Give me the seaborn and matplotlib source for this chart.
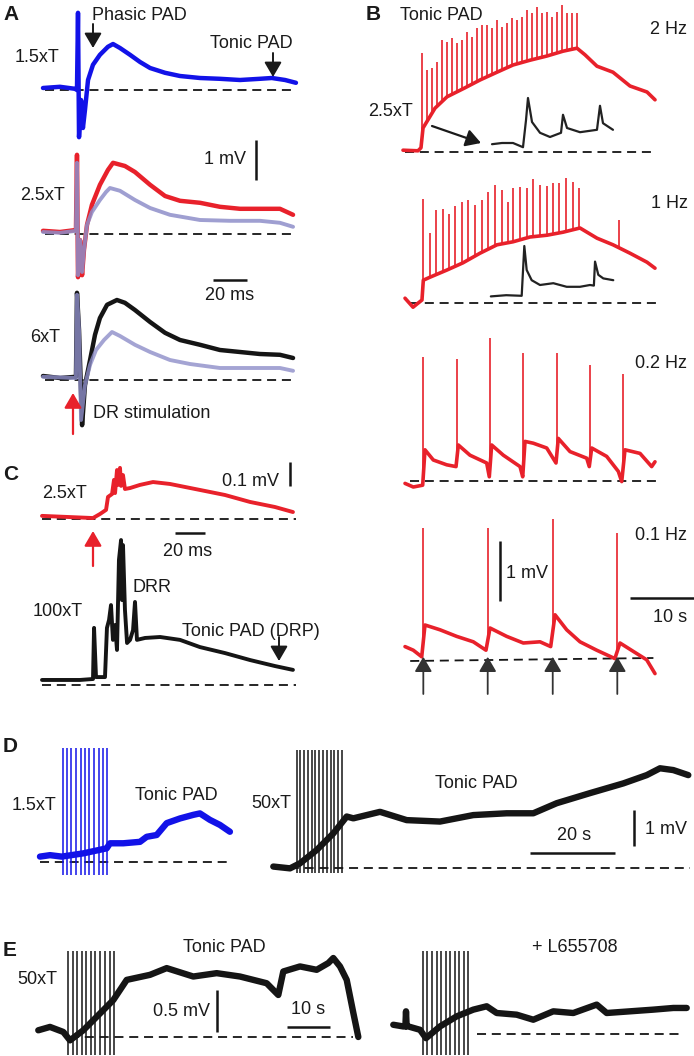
"""Tonic and phasic PAD recordings, redrawn as a multi-panel trace figure."""

import numpy as np
import matplotlib
matplotlib.use("Agg")
import matplotlib.pyplot as plt
import seaborn as sns

W, H = 694, 1056
RED = "#e8212b"
BLUE = "#1212e8"
LILAC = "#8e8ec9"
INK = "#151515"

# ---- Panel A: ms after DR stimulus, mV ----
a1_t = [-20.6, -10.6, -1.8, -0.6, 0, 0.6, 1.8, 2.9, 4.1, 5.9, 8.8, 12.9, 17.6, 20.6, 24.7,
        30.6, 36.5, 42.4, 51.2, 60, 71.8, 83.5, 95.3, 107, 114, 121.8, 128.2]
a1_v = [0.05, 0.08, 0.03, 0, 1.93, -1.18, -0.25, -0.95, -0.5, 0.25, 0.63, 0.88, 1.08, 1.15, 1.05,
        0.88, 0.7, 0.55, 0.43, 0.35, 0.3, 0.28, 0.25, 0.28, 0.3, 0.25, 0.18]

a2_t = [-20.6, -10.6, -1.2, -0.6, 0, 1.2, 2.4, 3.5, 5.3, 8.2, 12.9, 17.6, 20.6, 27.6, 33.5,
        42.4, 51.2, 60, 71.8, 83.5, 95.3, 107, 118.8, 126.5]
a2_v = [0.08, 0.05, 0.1, 1.98, -1.08, -0.15, -1.03, -0.4, 0.23, 0.73, 1.23, 1.6, 1.78, 1.7, 1.55,
        1.23, 0.95, 0.83, 0.78, 0.68, 0.63, 0.63, 0.63, 0.48]
a2_lilac_t = [-20.6, -10.6, -1.2, -0.6, 0, 1.2, 2.4, 3.5, 5.3, 8.2, 12.9, 16.5, 18.8, 24.7, 33.5,
              42.4, 54.1, 71.8, 89.4, 107, 118.8, 126.5]
a2_lilac_v = [0.05, 0.03, 0.08, 1.78, -1.03, -0.15, -0.95, -0.4, 0.23, 0.55, 0.85, 1.05, 1.15, 1.08,
              0.85, 0.65, 0.48, 0.35, 0.33, 0.33, 0.28, 0.18]

a3_t = [-20.6, -10.6, -1.2, -0.6, 0.6, 2.4, 4.1, 7.1, 10, 12.9, 17.1, 22.9, 27.6, 33.5, 42.4,
        51.2, 60, 71.8, 83.5, 95.3, 107, 118.8, 126.5]
a3_v = [0.1, 0.05, 0.08, 2.18, 1.25, -1.13, -0.13, 0.5, 1.13, 1.55, 1.88, 2.0, 1.93, 1.75, 1.45,
        1.18, 1.0, 0.88, 0.75, 0.7, 0.65, 0.63, 0.55]
a3_lilac_t = [-20.6, -1.2, -0.6, 0.6, 1.8, 4.1, 7.1, 10.6, 15.3, 20, 24.7, 33.5, 42.4, 54.1, 65.9,
              83.5, 101.2, 118.8, 126.5]
a3_lilac_v = [0.08, 0.05, 2.13, 1.25, -1.0, -0.13, 0.38, 0.75, 1.0, 1.2, 1.1, 0.88, 0.7, 0.5, 0.4,
              0.3, 0.3, 0.3, 0.23]

# ---- Panel C: ms, mV ----
c1_t = [-34, -15.3, 0, 4.7, 8.7, 10, 12.7, 14, 14.7, 16, 16.7, 18, 18.7, 20, 21.3, 24.7, 31.3,
        40, 51.3, 71.3, 88, 104.7, 121.3, 133.3]
c1_v = [0.013, 0.008, 0.004, 0.021, 0.038, 0.092, 0.104, 0.163, 0.108, 0.204, 0.142, 0.213, 0.138,
        0.183, 0.125, 0.129, 0.142, 0.154, 0.146, 0.121, 0.1, 0.071, 0.05, 0.029]
c2_t = [-34, -8.7, 0, 0.7, 2, 8, 9.3, 10.7, 12, 13.3, 14.7, 16, 17.3, 18.7, 19.3, 20, 21.3, 22.7,
        24.7, 26.7, 28, 29.3, 34.7, 44.7, 58, 71.3, 88, 104.7, 121.3, 133.3]
c2_v = [0.021, 0.021, 0.025, 0.238, 0.033, 0.033, 0.238, 0.271, 0.333, 0.188, 0.25, 0.146, 0.521,
        0.604, 0.354, 0.583, 0.313, 0.175, 0.188, 0.229, 0.346, 0.188, 0.196, 0.2, 0.188, 0.158,
        0.133, 0.104, 0.079, 0.063]

# ---- Panel B: s after train onset, mV ----
b1_base_t = [-2.97, -0.63, -0.16, 0.16, 2.03, 3.91, 6.72, 9.06, 11.72, 14.22, 16.88, 19.53, 22.03,
             24.22, 25.47, 27.34, 29.84, 32.5, 35.16, 36.41]
b1_base_v = [0.03, 0.02, 0.07, 0.4, 0.73, 0.92, 1.07, 1.2, 1.33, 1.45, 1.53, 1.6, 1.68, 1.73, 1.62,
             1.43, 1.33, 1.1, 1.0, 0.87]
b1_spike_t = [0, 0.78, 1.56, 2.34, 3.13, 3.91, 4.69, 5.47, 6.25, 7.03, 7.81, 8.59, 9.38, 10.16,
              10.94, 11.72, 12.5, 13.28, 14.06, 14.84, 15.63, 16.41, 17.19, 17.97, 18.75, 19.53,
              20.31, 21.09, 21.88, 22.66, 23.44, 24.22]
b1_spike_v = [1.65, 1.37, 1.4, 1.5, 1.87, 1.83, 1.9, 1.82, 1.87, 2.0, 1.92, 2.07, 2.12, 2.12, 2.07,
              2.2, 2.08, 2.15, 2.23, 2.2, 2.25, 2.37, 2.32, 2.42, 2.32, 2.33, 2.25, 2.33, 2.45,
              2.32, 2.32, 2.32]
b1_zoom_t = [10.94, 12.5, 14.22, 15.78, 16.25, 16.56, 17.19, 18.44, 20.0, 21.72, 22.03, 22.66,
             24.69, 27.34, 27.81, 28.28, 29.84]
b1_zoom_v = [0.13, 0.15, 0.15, 0.08, 0.53, 0.9, 0.5, 0.32, 0.25, 0.32, 0.62, 0.4, 0.33, 0.37,
             0.77, 0.48, 0.37]

b2_base_t = [-2.81, -1.56, -0.16, 0.05, 1.09, 3.75, 6.25, 8.91, 11.56, 14.06, 16.72, 19.38, 21.88,
             24.53, 27.19, 29.69, 32.34, 35.0, 36.25]
b2_base_v = [0.08, -0.07, 0.05, 0.38, 0.43, 0.55, 0.67, 0.83, 0.97, 1.02, 1.1, 1.13, 1.18, 1.25,
             1.08, 0.97, 0.83, 0.68, 0.58]
b2_spike_t = [0.05, 1.09, 2.03, 3.08, 4.06, 5.0, 6.05, 7.08, 8.13, 9.17, 10.2, 11.25, 12.3, 13.23,
              14.11, 15.16, 16.2, 17.23, 18.28, 19.33, 20.27, 21.3, 22.34, 23.39, 24.38, 30.67]
b2_spike_v = [1.74, 1.16, 1.55, 1.56, 1.49, 1.62, 1.69, 1.71, 1.63, 1.72, 1.85, 1.97, 1.88, 1.69,
              1.91, 1.94, 1.91, 2.06, 1.97, 1.95, 2.0, 2.0, 2.08, 2.02, 1.91, 1.38]
b2_zoom_t = [10.6, 13.0, 15.42, 15.83, 16.2, 16.98, 18.28, 20.36, 22.45, 24.53, 26.09, 26.7, 26.88,
             27.39, 28.17, 29.73]
b2_zoom_v = [0.11, 0.13, 0.12, 0.95, 0.55, 0.38, 0.3, 0.33, 0.27, 0.27, 0.3, 0.29, 0.69, 0.47,
             0.41, 0.38]

b3_base_t = [-2.81, -1.52, -0.05, 0.31, 1.61, 3.7, 5.16, 5.52, 7.34, 9.95, 10.36, 10.73, 12.55,
             15.16, 15.58, 15.94, 17.23, 19.33, 20.78, 21.14, 22.97, 25.58, 25.98, 26.36, 28.7,
             30.52, 31.05, 31.56, 33.91, 35.73, 36.25]
b3_base_v = [-0.04, -0.1, -0.07, 0.52, 0.35, 0.27, 0.24, 0.6, 0.43, 0.3, 0.07, 0.6, 0.43, 0.24,
             0.07, 0.66, 0.63, 0.55, 0.3, 0.71, 0.49, 0.38, 0.24, 0.55, 0.41, 0.16, -0.01, 0.52,
             0.46, 0.24, 0.32]
b3_spike_t = [0.05, 5.27, 10.47, 15.67, 20.89, 26.09, 31.2]
b3_spike_v = [2.07, 2.03, 2.38, 2.14, 2.13, 1.94, 1.79]

b4_base_t = [-2.81, -1.52, -0.2, 0.31, 2.66, 5.27, 7.86, 9.84, 10.47, 13.08, 15.67, 18.28, 19.95,
             20.63, 22.45, 24.53, 27.14, 29.98, 30.78, 32.86, 34.95, 36.25]
b4_base_v = [0.24, 0.18, 0.07, 0.6, 0.52, 0.41, 0.32, 0.18, 0.55, 0.41, 0.3, 0.32, 0.24, 0.77,
             0.52, 0.32, 0.18, 0.04, 0.3, 0.16, 0.02, -0.21]
b4_spike_t = [0.05, 10.11, 20.27, 30.36]
b4_spike_v = [2.21, 2.21, 2.36, 2.14]

# ---- Panel D: s after first pulse, mV ----
d1_t = [-5.32, -2.97, -0.23, 4.82, 10.3, 11.08, 14.19, 18.1, 19.67, 22.01, 24.36, 27.48, 30.59,
        32.14, 34.48, 36.82, 39.16]
d1_v = [0.15, 0.19, 0.15, 0.24, 0.38, 0.52, 0.52, 0.56, 0.7, 0.75, 1.08, 1.21, 1.31, 1.35, 1.17,
        1.03, 0.84]
d1_pulses = [0, 0.94, 1.94, 3.11, 4.21, 5.22, 6.23, 7.33, 8.43, 9.51, 10.45]
d2_t = [-5.48, -1.57, 0.77, 4.68, 8.57, 11.71, 13.26, 19.51, 25.76, 33.56, 41.36, 49.18, 55.41,
        60.89, 68.69, 76.49, 81.97, 85.08, 88.2, 91.71]
d2_v = [0.04, -0.01, 0.13, 0.5, 0.96, 1.43, 1.38, 1.56, 1.33, 1.29, 1.47, 1.52, 1.52, 1.8, 2.08,
        2.35, 2.58, 2.77, 2.72, 2.58]
d2_pulses = [0, 0.88, 1.75, 2.64, 3.51, 4.4, 5.27, 6.16, 7.03, 7.92, 8.79, 9.68, 10.54]

# ---- Panel E: s after first pulse, mV ----
e1_t = [-7.03, -4.29, -1.17, 0.4, 3.51, 7.42, 10.54, 13.68, 19.13, 23.04, 29.27, 34.75, 40.21,
        46.46, 49.18, 50.35, 54.26, 58.17, 60.89, 62.06, 63.63, 65.2, 66.74, 67.92]
e1_v = [0.08, 0.12, 0.06, -0.04, 0.08, 0.28, 0.44, 0.68, 0.74, 0.82, 0.72, 0.76, 0.72, 0.64, 0.5,
        0.78, 0.84, 0.8, 0.88, 0.94, 0.84, 0.68, 0.29, 0.0]
e1_pulses = [0, 1.03, 2.11, 3.14, 4.15, 5.25, 6.32, 7.42, 8.6, 9.7, 10.77]
e2_t = [-7.03, -4.68, -4.2, -4.05, -3.9, -3.51, -0.77, 0.63, 3.91, 7.82, 11.71, 14.85, 17.19,
        21.87, 25.76, 30.44, 35.13, 40.61, 42.95, 48.41, 53.86, 58.55, 61.69]
e2_v = [0.11, 0.09, 0.09, 0.27, 0.09, 0.09, 0.05, -0.05, 0.09, 0.21, 0.29, 0.33, 0.25, 0.23, 0.17,
        0.27, 0.25, 0.35, 0.25, 0.27, 0.29, 0.31, 0.31]
e2_pulses = [0, 0.94, 1.97, 3.14, 4.15, 5.32, 6.26, 7.43, 8.43, 9.53, 10.54]


sns.set_theme(style="white")
plt.rcParams["font.family"] = ["Liberation Sans", "DejaVu Sans"]

fig = plt.figure(figsize=(W / 100, H / 100), dpi=100)


def trace_axes(box, origin, scale):
    """Axes over a pixel box, in data units given by origin pixel and px/unit."""
    left, top, right, bottom = box
    x0, y0 = origin
    sx, sy = scale
    ax = fig.add_axes([left / W, 1 - bottom / H, (right - left) / W, (bottom - top) / H])
    ax.set_xlim((left - x0) / sx, (right - x0) / sx)
    ax.set_ylim((y0 - bottom) / sy, (y0 - top) / sy)
    ax.set_axis_off()
    return ax


def trace(ax, t, v, color, lw, alpha=1.0, z=3):
    sns.lineplot(x=t, y=v, ax=ax, color=color, linewidth=lw, alpha=alpha, sort=False,
                 estimator=None, zorder=z, legend=False, solid_joinstyle="round",
                 solid_capstyle="round")


def baseline(ax, t0, t1, v0=0.0, v1=0.0):
    ax.plot([t0, t1], [v0, v1], color=INK, lw=1.3, dashes=(5, 3.2), zorder=2)


def spikes(ax, base_t, base_v, spike_t, spike_v, color, lw=1.2):
    foot = np.interp(spike_t, base_t, base_v)
    ax.vlines(spike_t, foot, spike_v, color=color, lw=lw, zorder=3)


def pulses(ax, times, lo, hi, color):
    ax.vlines(times, lo, hi, color=color, lw=1.1, zorder=4)


# panel A
ax_a1 = trace_axes((40, 0, 300, 145), (78, 90), (1.7, 40))
ax_a2 = trace_axes((40, 130, 300, 290), (78, 234), (1.7, 40))
ax_a3 = trace_axes((40, 285, 300, 440), (78, 380), (1.7, 40))
for ax in (ax_a1, ax_a2, ax_a3):
    baseline(ax, -19.4, 128)
trace(ax_a1, a1_t, a1_v, BLUE, 3.2)
trace(ax_a2, a2_t, a2_v, RED, 3.2)
trace(ax_a2, a2_lilac_t, a2_lilac_v, LILAC, 2.8, alpha=0.85, z=4)
trace(ax_a3, a3_t, a3_v, INK, 3.2)
trace(ax_a3, a3_lilac_t, a3_lilac_v, LILAC, 2.8, alpha=0.8, z=4)
ax_a2.vlines(104.7, 1.35, 2.35, color=INK, lw=1.8)
ax_a2.hlines(-1.15, 79.4, 99.4, color=INK, lw=1.8)

# panel C
ax_c1 = trace_axes((40, 450, 300, 572), (93, 519), (1.5, 240))
ax_c2 = trace_axes((40, 520, 300, 700), (93, 685), (1.5, 240))
baseline(ax_c1, -34, 135)
baseline(ax_c2, -34, 135)
trace(ax_c1, c1_t, c1_v, RED, 2.8)
trace(ax_c2, c2_t, c2_v, INK, 2.8)
ax_c1.vlines(131.3, 0.1375, 0.2375, color=INK, lw=1.8)
ax_c1.hlines(-0.058, 54.7, 74.7, color=INK, lw=1.8)

# panel B
ax_b1 = trace_axes((395, 0, 694, 165), (422, 152), (6.4, 60))
ax_b2 = trace_axes((395, 165, 694, 315), (423, 303), (6.4, 60))
ax_b3 = trace_axes((395, 315, 694, 500), (423, 481), (6.4, 60))
ax_b4 = trace_axes((395, 500, 694, 700), (423, 661), (6.4, 60))
baseline(ax_b1, -2.66, 36.4)
baseline(ax_b2, -2.0, 37.0)
baseline(ax_b3, -2.0, 37.0)
baseline(ax_b4, -2.0, 36.0, 0.0, 0.05)
for ax, bt, bv, st, sv in [(ax_b1, b1_base_t, b1_base_v, b1_spike_t, b1_spike_v),
                           (ax_b2, b2_base_t, b2_base_v, b2_spike_t, b2_spike_v),
                           (ax_b3, b3_base_t, b3_base_v, b3_spike_t, b3_spike_v),
                           (ax_b4, b4_base_t, b4_base_v, b4_spike_t, b4_spike_v)]:
    trace(ax, bt, bv, RED, 2.6)
    spikes(ax, bt, bv, st, sv, RED)
trace(ax_b1, b1_zoom_t, b1_zoom_v, "#222222", 1.6, z=5)
trace(ax_b2, b2_zoom_t, b2_zoom_v, "#222222", 1.6, z=5)
for st in b4_spike_t:
    ax_b4.annotate("", xy=(st, 0.07), xytext=(st, -0.55),
                   arrowprops=dict(arrowstyle="-|>,head_length=0.6,head_width=0.35",
                                   color="#333333", lw=1.3, mutation_scale=15,
                                   shrinkA=0, shrinkB=0))
ax_b4.vlines(12.03, 1.0, 2.0, color=INK, lw=1.8)
ax_b4.hlines(1.05, 32.3, 42.3, color=INK, lw=1.8, clip_on=False)

# panel D
ax_d1 = trace_axes((0, 720, 245, 880), (62.7, 862), (4.27, 36))
ax_d2 = trace_axes((245, 720, 694, 880), (296.7, 868), (4.27, 36))
baseline(ax_d1, -5.3, 39.6)
baseline(ax_d2, -5.1, 92.2)
pulses(ax_d1, d1_pulses, -0.36, 3.18, BLUE)
pulses(ax_d2, d2_pulses, -0.14, 3.28, INK)
trace(ax_d1, d1_t, d1_v, BLUE, 4.6)
trace(ax_d2, d2_t, d2_v, INK, 4.6)
ax_d2.hlines(0.42, 54.6, 74.6, color=INK, lw=1.8)
ax_d2.vlines(79.0, 0.61, 1.61, color=INK, lw=1.8)

# panel E
ax_e1 = trace_axes((0, 900, 370, 1056), (68.3, 1037), (4.27, 84))
ax_e2 = trace_axes((370, 900, 694, 1056), (423.3, 1034), (4.27, 84))
baseline(ax_e1, 0.4, 66.7)
baseline(ax_e2, 12.5, 61.0)
pulses(ax_e1, e1_pulses, -0.21, 1.02, INK)
pulses(ax_e2, e2_pulses, -0.25, 0.99, INK)
trace(ax_e1, e1_t, e1_v, INK, 4.6)
trace(ax_e2, e2_t, e2_v, INK, 4.6)
ax_e1.vlines(34.9, 0.06, 0.56, color=INK, lw=1.8)
ax_e1.hlines(0.12, 51.2, 61.2, color=INK, lw=1.8)

# text and pointer overlay in figure pixels
lab = fig.add_axes([0, 0, 1, 1], zorder=10)
lab.set_xlim(0, W)
lab.set_ylim(H, 0)
lab.set_axis_off()


def label(x, y, s, ha="left", size=13, weight="normal", color="#1a1a1a"):
    lab.text(x, y, s, ha=ha, va="center", fontsize=size, fontweight=weight, color=color)


def pointer(tail, tip, color="#1a1a1a", lw=1.4, scale=15):
    lab.annotate("", xy=tip, xytext=tail,
                 arrowprops=dict(arrowstyle="-|>,head_length=0.6,head_width=0.35", color=color,
                                 lw=lw, mutation_scale=scale, shrinkA=0, shrinkB=0))


for x, y, s in [(3, 15, "A"), (366, 15, "B"), (3, 475, "C"), (3, 746, "D"), (3, 950, "E")]:
    label(x, y, s, size=15, weight="bold")

label(92, 16, "Phasic PAD")
label(15, 58, "1.5xT")
label(210, 43, "Tonic PAD")
label(246, 160, "1 mV", ha="right")
label(20, 196, "2.5xT")
label(230, 296, "20 ms", ha="center")
label(30, 337, "6xT")
label(93, 414, "DR stimulation")
pointer((93, 24), (93, 48))
pointer((273, 53), (273, 77))
pointer((73, 434), (73, 393), color=RED, lw=1.6)

label(42, 493, "2.5xT")
label(279, 482, "0.1 mV", ha="right")
label(188, 551, "20 ms", ha="center")
label(133, 588, "DRR")
label(33, 612, "100xT")
label(182, 632, "Tonic PAD (DRP)")
pointer((93, 566), (93, 531), color=RED, lw=1.6)
pointer((279, 637), (279, 661))

label(400, 15, "Tonic PAD")
label(650, 30, "2 Hz")
label(368, 112, "2.5xT")
pointer((432, 126), (481, 143), lw=1.6)
label(651, 203, "1 Hz")
label(635, 364, "0.2 Hz")
label(635, 535, "0.1 Hz")
label(506, 573, "1 mV")
label(670, 618, "10 s", ha="center")

label(12, 805, "1.5xT")
label(135, 795, "Tonic PAD")
label(251, 804, "50xT")
label(435, 783, "Tonic PAD")
label(574, 836, "20 s", ha="center")
label(645, 829, "1 mV")

label(17, 980, "50xT")
label(183, 948, "Tonic PAD")
label(210, 1012, "0.5 mV", ha="right")
label(308, 1010, "10 s", ha="center")
label(532, 947, "+ L655708")

fig.savefig("out.png", dpi=100)
